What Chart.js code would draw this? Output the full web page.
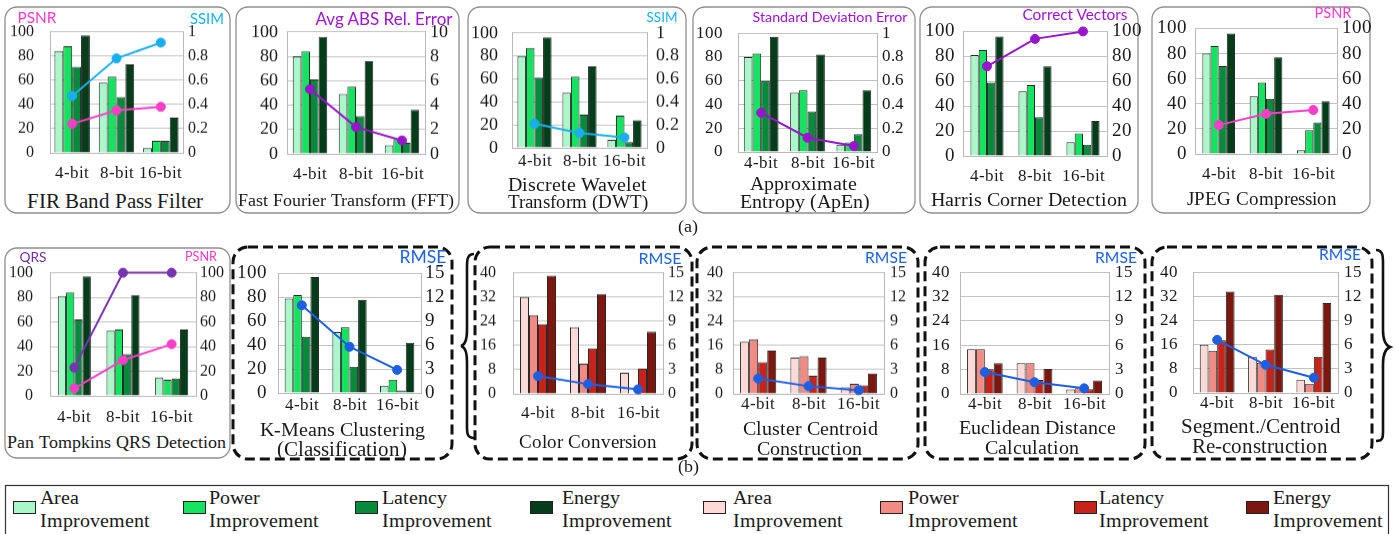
<!DOCTYPE html>
<html>
<head>
<meta charset="utf-8">
<script src="https://cdn.jsdelivr.net/npm/chart.js@4.4.1/dist/chart.umd.min.js"></script>
<style>
  @font-face { font-family: 'LSerif'; src: local('Liberation Serif'), local('LiberationSerif'), local('LiberationSerif-Regular'); font-weight: 400; font-style: normal; }
  html, body { margin: 0; padding: 0; }
  body { width: 1395px; height: 534px; background: #fff; position: relative; overflow: hidden; }
  .txt { position: absolute; white-space: nowrap; line-height: 1; transform: translate(-50%, -50%); }
  .lg { position: absolute; white-space: nowrap; line-height: 1; font-family: LSerif, 'Liberation Serif', serif; color: #1a1a1a; transform: translateY(-50%); }
  .sw { position: absolute; box-sizing: border-box; border: 1.5px solid #222; }
  svg#frames { position: absolute; left: 0; top: 0; z-index: 0; }
</style>
</head>
<body>
<svg id="frames" width="1395" height="534"></svg>
<script>
// ---------------- DATA ----------------
const categories = ['4-bit', '8-bit', '16-bit'];
const seriesNames = ['Area Improvement', 'Power Improvement', 'Latency Improvement', 'Energy Improvement'];

const ticks100 = [0, 20, 40, 60, 80, 100];
const ticks1 = [0, 0.2, 0.4, 0.6, 0.8, 1];
const ticks10 = [0, 2, 4, 6, 8, 10];
const ticks40 = [0, 8, 16, 24, 32, 40];
const ticks15 = [0, 3, 6, 9, 12, 15];

// (a) FIR Band Pass Filter
const firArea = [84, 58, 4];
const firPower = [88, 63, 10];
const firLatency = [71, 46, 10];
const firEnergy = [97, 73, 29];
const firPSNR = [0.24, 0.35, 0.38];
const firSSIM = [0.47, 0.78, 0.91];
// (a) FFT
const fftArea = [80, 49, 7];
const fftPower = [84, 55, 12];
const fftLatency = [61, 31, 9];
const fftEnergy = [96, 76, 36];
const fftAvgAbsRelError = [5.3, 2.2, 1.1];
// (a) DWT
const dwtArea = [80, 48, 7];
const dwtPower = [87, 62, 28];
const dwtLatency = [61, 29, 5];
const dwtEnergy = [96, 71, 24];
const dwtSSIM = [0.21, 0.13, 0.09];
// (a) ApEn
const apenArea = [80, 50, 6];
const apenPower = [83, 52, 8];
const apenLatency = [60, 34, 15];
const apenEnergy = [97, 82, 52];
const apenStdDevError = [0.33, 0.12, 0.05];
// (a) Harris Corner Detection
const harrisArea = [81, 52, 11];
const harrisPower = [85, 57, 18];
const harrisLatency = [59, 31, 9];
const harrisEnergy = [96, 72, 28];
const harrisCorrectVectors = [72, 94, 100];
// (a) JPEG Compression
const jpegArea = [80, 46, 3];
const jpegPower = [86, 57, 19];
const jpegLatency = [70, 44, 25];
const jpegEnergy = [96, 77, 42];
const jpegPSNR = [23, 32, 35];
// (b) Pan Tompkins
const panArea = [81, 53, 15];
const panPower = [84, 54, 13];
const panLatency = [62, 34, 14];
const panEnergy = [97, 82, 54];
const panQRS = [23, 100, 100];
const panPSNR = [6, 29, 42];
// (b) K-Means
const kmArea = [79, 51, 6];
const kmPower = [82, 55, 11];
const kmLatency = [47, 22, 2];
const kmEnergy = [97, 78, 42];
const kmRMSE = [11, 5.8, 2.9];
// (b) Color Conversion
const ccArea = [32, 22, 7];
const ccPower = [26, 10, 0];
const ccLatency = [23, 15, 8.3];
const ccEnergy = [39, 33, 20.5];
const ccRMSE = [2.2, 1.2, 0.55];
// (b) Cluster Centroid Construction
const cenArea = [17.2, 12, 2.2];
const cenPower = [18, 12.5, 3.3];
const cenLatency = [10.5, 6, 2.8];
const cenEnergy = [14.3, 12, 6.7];
const cenRMSE = [1.9, 0.95, 0.45];
// (b) Euclidean Distance Calculation
const euArea = [14.7, 10.1, 1.5];
const euPower = [14.7, 10.1, 2.1];
const euLatency = [8.1, 4.6, 1.6];
const euEnergy = [10.1, 8.2, 4.4];
const euRMSE = [2.7, 1.45, 0.7];
// (b) Segment./Centroid Re-construction
const segArea = [16, 12, 4.4];
const segPower = [14, 10, 3.1];
const segLatency = [17.5, 14.4, 12];
const segEnergy = [33.6, 32.5, 29.8];
const segRMSE = [6.6, 3.5, 1.9];

// ---------------- STYLE ----------------
const GREEN = ['#aaf7ca', '#14e35f', '#078a3c', '#033d1a'];
const RED = ['#fddad7', '#f28b84', '#c7231b', '#7c170f'];
const PINK = '#fb3ec8', SKY = '#1aaef0', PURPLE = '#9716cc', QRSC = '#7634ae', BLUE = '#1d5fe3';
const SERIF = "LSerif, 'Liberation Serif', serif";
const SANS = "Lato, 'Open Sans', sans-serif";
Chart.defaults.font.family = SERIF;

const specs = [
  {L:50, R:183, T:32, B:153, xp:10, yp:16, y1p:5, fs:16, xfs:17, cp:0.8, pal:GREEN, yT:ticks100, y1T:ticks1,
   bars:[firArea, firPower, firLatency, firEnergy], lines:[{n:'PSNR', d:firPSNR, c:PINK}, {n:'SSIM', d:firSSIM, c:SKY}]},
  {L:287, R:425, T:32, B:154, xp:10, yp:9, y1p:5, fs:18, xfs:17, cp:0.75, pal:GREEN, yT:ticks100, y1T:ticks10,
   bars:[fftArea, fftPower, fftLatency, fftEnergy], lines:[{n:'Avg ABS Rel. Error', d:fftAvgAbsRelError, c:PURPLE}]},
  {L:512, R:647, T:33, B:148, xp:3, yp:14, y1p:9, fs:18, xfs:17, cp:0.76, pal:GREEN, yT:ticks100, y1T:ticks1,
   bars:[dwtArea, dwtPower, dwtLatency, dwtEnergy], lines:[{n:'SSIM', d:dwtSSIM, c:SKY}]},
  {L:738, R:877, T:33, B:152, xp:1, yp:15, y1p:5, fs:17, xfs:17, cp:0.75, pal:GREEN, yT:ticks100, y1T:ticks1,
   bars:[apenArea, apenPower, apenLatency, apenEnergy], lines:[{n:'Standard Deviation Error', d:apenStdDevError, c:PURPLE}]},
  {L:963, R:1107, T:31, B:156, xp:10, yp:8, y1p:5, fs:19, xfs:17, cp:0.69, pal:GREEN, yT:ticks100, y1T:ticks100,
   bars:[harrisArea, harrisPower, harrisLatency, harrisEnergy], lines:[{n:'Correct Vectors', d:harrisCorrectVectors, c:PURPLE}]},
  {L:1195, R:1337, T:28, B:154, xp:10, yp:8, y1p:5, fs:19, xfs:17, cp:0.69, pal:GREEN, yT:ticks100, y1T:ticks100,
   bars:[jpegArea, jpegPower, jpegLatency, jpegEnergy], lines:[{n:'PSNR', d:jpegPSNR, c:PINK}]},
  {L:50, R:196, T:273, B:396, xp:11, yp:17, y1p:4, fs:16, xfs:17, cp:0.68, pal:GREEN, yT:ticks100, y1T:ticks100,
   bars:[panArea, panPower, panLatency, panEnergy], lines:[{n:'QRS', d:panQRS, c:QRSC}, {n:'PSNR', d:panPSNR, c:PINK}]},
  {L:278, R:421, T:273, B:393, xp:2, yp:11, y1p:4, fs:19, xfs:17, cp:0.72, pal:GREEN, yT:ticks100, y1T:ticks15,
   bars:[kmArea, kmPower, kmLatency, kmEnergy], lines:[{n:'RMSE', d:kmRMSE, c:BLUE}]},
  {L:513, R:663, T:273, B:394, xp:9, yp:17, y1p:5, fs:16, xfs:17, cp:0.72, pal:RED, yT:ticks40, y1T:ticks15,
   bars:[ccArea, ccPower, ccLatency, ccEnergy], lines:[{n:'RMSE', d:ccRMSE, c:BLUE}]},
  {L:733, R:884, T:273, B:394, xp:0, yp:10, y1p:6, fs:16, xfs:17, cp:0.72, pal:RED, yT:ticks40, y1T:ticks15,
   bars:[cenArea, cenPower, cenLatency, cenEnergy], lines:[{n:'RMSE', d:cenRMSE, c:BLUE}]},
  {L:960, R:1109, T:272, B:394, xp:0, yp:10, y1p:6, fs:17, xfs:17, cp:0.72, pal:RED, yT:ticks40, y1T:ticks15,
   bars:[euArea, euPower, euLatency, euEnergy], lines:[{n:'RMSE', d:euRMSE, c:BLUE}]},
  {L:1193, R:1338, T:272, B:393, xp:0, yp:15, y1p:6, fs:17, xfs:17, cp:0.72, pal:RED, yT:ticks40, y1T:ticks15,
   bars:[segArea, segPower, segLatency, segEnergy], lines:[{n:'RMSE', d:segRMSE, c:BLUE}]}
];

// ---------------- FRAMES ----------------
const svg = document.getElementById('frames');
const NS = 'http://www.w3.org/2000/svg';
function rect(x1, y1, x2, y2, dashed) {
  const r = document.createElementNS(NS, 'rect');
  r.setAttribute('x', x1); r.setAttribute('y', y1);
  r.setAttribute('width', x2 - x1); r.setAttribute('height', y2 - y1);
  r.setAttribute('rx', dashed ? 15 : 12); r.setAttribute('fill', 'none');
  if (dashed) {
    r.setAttribute('stroke', '#111'); r.setAttribute('stroke-width', 3);
    r.setAttribute('stroke-dasharray', '10 5');
  } else {
    r.setAttribute('stroke', '#8f8f8f'); r.setAttribute('stroke-width', 1.3);
  }
  svg.appendChild(r);
}
function path(d, wdt) {
  const p = document.createElementNS(NS, 'path');
  p.setAttribute('d', d); p.setAttribute('fill', 'none');
  p.setAttribute('stroke', '#111'); p.setAttribute('stroke-width', wdt);
  svg.appendChild(p);
}
[[5,230],[236,459],[468,686],[693,915],[920,1138],[1152,1370]].forEach(b => rect(b[0], 7, b[1], 213, false));
rect(5, 248, 230, 458, false);
[[233,452],[475,692],[697,918],[925,1145],[1152,1372]].forEach(b => rect(b[0], 247, b[1], 459, true));
path('M 474 254 C 466 254 467 262 467 274 L 467 330 C 467 340 465 345 461 346 C 465 347 467 352 467 362 L 467 420 C 467 432 466 438 474 438', 2.6);
path('M 1376 250 C 1384 250 1383 258 1383 270 L 1383 330 C 1383 340 1385 345 1390 347 C 1385 349 1383 354 1383 364 L 1383 425 C 1383 437 1384 441 1376 441', 2.6);
const lf = document.createElementNS(NS, 'rect');
lf.setAttribute('x', 5.5); lf.setAttribute('y', 485.5); lf.setAttribute('width', 1383); lf.setAttribute('height', 60);
lf.setAttribute('fill', 'none'); lf.setAttribute('stroke', '#333'); lf.setAttribute('stroke-width', 1.2);
svg.appendChild(lf);

// ---------------- TEXT ----------------
const fitted = [];
function addText(txt, cx, cy, targetW, family, color, base) {
  const s = document.createElement('span');
  s.className = 'txt';
  s.textContent = txt;
  s.style.fontFamily = family; s.style.color = color; s.style.fontSize = base + 'px';
  s.style.left = cx + 'px'; s.style.top = cy + 'px'; s.style.zIndex = 3;
  document.body.appendChild(s);
  if (targetW) fitted.push({s, targetW, base});
  return s;
}
function fitAll() {
  fitted.forEach(f => {
    f.s.style.fontSize = f.base + 'px';
    const mw = f.s.getBoundingClientRect().width;
    f.s.style.fontSize = (f.base * f.targetW / mw).toFixed(2) + 'px';
  });
}
const TC = '#1a1a1a';
addText('FIR Band  Pass  Filter', 115, 201, 172, SERIF, TC, 19);
addText('Fast Fourier Transform (FFT)', 346, 200, 217, SERIF, TC, 19);
addText('Discrete Wavelet', 577, 184, 133, SERIF, TC, 19);
addText('Transform (DWT)', 578, 202, 143, SERIF, TC, 19);
addText('Approximate', 803, 183, 107, SERIF, TC, 19);
addText('Entropy (ApEn)', 805, 202, 131, SERIF, TC, 19);
addText('Harris Corner Detection', 1029, 199, 196, SERIF, TC, 19);
addText('JPEG Compression', 1262, 199, 149, SERIF, TC, 19);
addText('Pan Tompkins QRS Detection', 116, 443, 216, SERIF, TC, 19);
addText('K-Means Clustering', 342, 429, 163, SERIF, TC, 19);
addText('(Classification)', 342, 449, 123, SERIF, TC, 19);
addText('Color Conversion', 588, 442, 137, SERIF, TC, 19);
addText('Cluster Centroid', 810, 428, 135, SERIF, TC, 19);
addText('Construction', 809, 448, 106, SERIF, TC, 19);
addText('Euclidean Distance', 1037, 427, 157, SERIF, TC, 19);
addText('Calculation', 1032, 447, 92, SERIF, TC, 19);
addText('Segment./Centroid', 1261, 427, 162, SERIF, TC, 19);
addText('Re-construction', 1260, 447, 136, SERIF, TC, 19);
addText('(a)', 688, 226, 0, SERIF, TC, 18);
addText('(b)', 688, 466, 0, SERIF, TC, 18);
addText('PSNR', 37, 18, 39, SANS, '#ff3ccc', 16);
addText('SSIM', 207, 18, 34, SANS, '#19b1f2', 16);
addText('Avg ABS Rel. Error', 384, 18, 137, SANS, '#9a16d2', 16);
addText('SSIM', 662, 18, 31, SANS, '#19b1f2', 16);
addText('Standard Deviation Error', 830, 17, 155, SANS, '#9a16d2', 16);
addText('Correct Vectors', 1075, 15, 105, SANS, '#9a16d2', 16);
addText('PSNR', 1333, 13, 37, SANS, '#ff3ccc', 16);
addText('QRS', 33, 257, 27, SANS, '#7030a0', 16);
addText('PSNR', 201, 257, 32, SANS, '#ff3ccc', 16);
addText('RMSE', 423, 257, 47, SANS, '#1f62e6', 16);
addText('RMSE', 660, 258, 43, SANS, '#1f62e6', 16);
addText('RMSE', 886, 258, 42, SANS, '#1f62e6', 16);
addText('RMSE', 1116, 258, 42, SANS, '#1f62e6', 16);
addText('RMSE', 1340, 255, 42, SANS, '#1f62e6', 16);
fitAll();

// ---------------- LEGEND ----------------
const legendItems = [
  {sw: 13, tx: 40, c: GREEN[0], n: ['Area', 'Improvement']},
  {sw: 183, tx: 209, c: GREEN[1], n: ['Power', 'Improvement']},
  {sw: 355, tx: 382, c: GREEN[2], n: ['Latency', 'Improvement']},
  {sw: 530, tx: 562, c: GREEN[3], n: ['Energy', 'Improvement']},
  {sw: 703, tx: 733, c: RED[0], n: ['Area', 'Improvement']},
  {sw: 880, tx: 908, c: RED[1], n: ['Power', 'Improvement']},
  {sw: 1074, tx: 1099, c: RED[2], n: ['Latency', 'Improvement']},
  {sw: 1246, tx: 1273, c: RED[3], n: ['Energy', 'Improvement']}
];
legendItems.forEach(it => {
  const sw = document.createElement('div');
  sw.className = 'sw';
  sw.style.cssText += 'left:' + it.sw + 'px;top:501px;width:23px;height:13px;background:' + it.c + ';';
  document.body.appendChild(sw);
  [[it.n[0], 497], [it.n[1], 520]].forEach(([t, y]) => {
    const s = document.createElement('span');
    s.className = 'lg'; s.textContent = t;
    s.style.left = it.tx + 'px'; s.style.top = y + 'px'; s.style.fontSize = '20px';
    document.body.appendChild(s);
  });
});

// ---------------- CHARTS ----------------
const SIDE = 70, TOPPAD = 16, XH = 32;
const allCharts = [];

function createChart(spec, w, h) {
  const wrap = document.createElement('div');
  wrap.style.cssText = 'position:absolute;left:0;top:0;z-index:2;width:' + w + 'px;height:' + h + 'px;';
  const cv = document.createElement('canvas');
  cv.width = w; cv.height = h;
  cv.style.width = w + 'px'; cv.style.height = h + 'px';
  wrap.appendChild(cv);
  document.body.appendChild(wrap);
  const datasets = spec.bars.map((d, i) => ({
    type: 'bar', label: seriesNames[i], data: d, yAxisID: 'y', order: 2,
    backgroundColor: spec.pal[i], borderColor: '#2a2a2a', borderWidth: 1,
    categoryPercentage: spec.cp, barPercentage: 1
  }));
  spec.lines.forEach(l => datasets.push({
    type: 'line', label: l.n, data: l.d, yAxisID: 'y1', order: 1, clip: false,
    borderColor: l.c, backgroundColor: l.c, borderWidth: 2, tension: 0,
    pointRadius: 4.5, pointBackgroundColor: l.c, pointBorderColor: l.c, pointBorderWidth: 1
  }));
  const tickFont = { family: SERIF, size: spec.fs };
  const fmt = v => String(v);
  const chart = new Chart(cv, {
    type: 'bar',
    data: { labels: categories, datasets },
    options: {
      responsive: false, maintainAspectRatio: false, animation: false, devicePixelRatio: 1,
      layout: { padding: { top: TOPPAD, left: 0, right: 0, bottom: 0 } },
      plugins: { legend: { display: false }, tooltip: { enabled: false } },
      scales: {
        x: {
          grid: { display: true, drawOnChartArea: false, drawTicks: false },
          border: { display: true, color: '#b9b9b9', width: 1 },
          ticks: { font: { family: SERIF, size: spec.xfs }, color: '#1a1a1a', padding: spec.xp, maxRotation: 0, autoSkip: false },
          afterFit: s => { s.height = XH; }
        },
        y: {
          position: 'left', min: spec.yT[0], max: spec.yT[spec.yT.length - 1],
          afterBuildTicks: s => { s.ticks = spec.yT.map(v => ({ value: v })); },
          grid: { color: '#c3c3c3', lineWidth: 1, drawTicks: false },
          border: { display: true, color: '#b9b9b9', width: 1 },
          ticks: { font: tickFont, color: '#1a1a1a', padding: spec.yp, autoSkip: false, callback: fmt },
          afterFit: s => { s.width = SIDE; }
        },
        y1: {
          position: 'right', min: spec.y1T[0], max: spec.y1T[spec.y1T.length - 1],
          afterBuildTicks: s => { s.ticks = spec.y1T.map(v => ({ value: v })); },
          grid: { drawOnChartArea: false, drawTicks: false },
          border: { display: true, color: '#b9b9b9', width: 1 },
          ticks: { font: tickFont, color: '#1a1a1a', padding: spec.y1p, autoSkip: false, callback: fmt },
          afterFit: s => { s.width = SIDE; }
        }
      }
    }
  });
  return { wrap, chart };
}

specs.forEach(spec => {
  const w = spec.R - spec.L + 2 * SIDE;
  let h = spec.B - spec.T + TOPPAD + XH;
  let r = createChart(spec, w, h);
  let ca = r.chart.chartArea;
  const dh = (spec.B - spec.T) - (ca.bottom - ca.top);
  if (Math.abs(dh) > 0.5) {
    r.chart.destroy(); r.wrap.remove();
    h += dh;
    r = createChart(spec, w, h);
    ca = r.chart.chartArea;
  }
  r.wrap.style.left = (spec.L - ca.left) + 'px';
  r.wrap.style.top = (spec.T - ca.top) + 'px';
  allCharts.push(r.chart);
});

if (document.fonts && document.fonts.load) {
  Promise.all([document.fonts.load('16px LSerif'), document.fonts.load('16px Lato')]).then(() => {
    fitAll();
    allCharts.forEach(c => c.update('none'));
  }).catch(() => {});
}
</script>
</body>
</html>
